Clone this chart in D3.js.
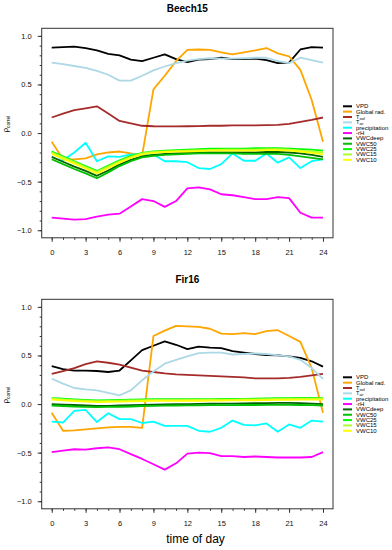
<!DOCTYPE html>
<html>
<head>
<meta charset="utf-8">
<script src="https://cdn.jsdelivr.net/npm/d3@7"></script>
<style>
  body { margin: 0; background: #fff; }
  svg text { font-family: "Liberation Sans", Arial, Helvetica, sans-serif; }
</style>
</head>
<body>
<svg id="chart" width="392" height="550"></svg>
<script>

// DATA
// ========================================================================
var hours = d3.range(0, 25);
var x_ticks_major = [0, 3, 6, 9, 12, 15, 18, 21, 24];
var y_ticks_major = [-1.0, -0.5, 0.0, 0.5, 1.0];

var series_names = ["VPD", "Global rad.", "Tsoil", "Tair", "precipitation", "-rH",
                    "VWCdeep", "VWC50", "VWC25", "VWC15", "VWC10"];
var series_colors = ["#000000", "#ffa500", "#a52a2a", "#add8e6", "#00ffff", "#ff00ff",
                     "#006400", "#00c000", "#00ff00", "#adff2f", "#ffff00"];

// Beech15
var beech_vpd    = [0.88, 0.885, 0.89, 0.875, 0.85, 0.815, 0.80, 0.755, 0.74, 0.775, 0.81, 0.76, 0.73, 0.755, 0.76, 0.775, 0.76, 0.76, 0.765, 0.75, 0.72, 0.725, 0.86, 0.885, 0.88];
var beech_rad    = [-0.09, -0.27, -0.27, -0.26, -0.22, -0.20, -0.19, -0.21, -0.23, 0.45, 0.59, 0.74, 0.855, 0.86, 0.855, 0.83, 0.81, 0.83, 0.85, 0.875, 0.82, 0.79, 0.65, 0.34, -0.09];
var beech_tsoil  = [0.16, 0.20, 0.235, 0.255, 0.275, 0.20, 0.125, 0.10, 0.075, 0.07, 0.068, 0.068, 0.07, 0.072, 0.075, 0.075, 0.08, 0.08, 0.08, 0.082, 0.085, 0.095, 0.115, 0.135, 0.16];
var beech_tair   = [0.725, 0.71, 0.69, 0.67, 0.64, 0.60, 0.54, 0.54, 0.59, 0.645, 0.685, 0.72, 0.745, 0.76, 0.77, 0.765, 0.765, 0.77, 0.775, 0.775, 0.74, 0.72, 0.775, 0.75, 0.725];
var beech_precip = [-0.19, -0.28, -0.20, -0.10, -0.29, -0.24, -0.245, -0.22, -0.22, -0.22, -0.29, -0.29, -0.30, -0.36, -0.37, -0.32, -0.21, -0.285, -0.285, -0.21, -0.305, -0.25, -0.36, -0.29, -0.27];
var beech_rh     = [-0.87, -0.88, -0.89, -0.885, -0.86, -0.84, -0.83, -0.755, -0.68, -0.70, -0.76, -0.70, -0.57, -0.56, -0.58, -0.63, -0.64, -0.66, -0.68, -0.68, -0.66, -0.67, -0.82, -0.87, -0.87];
var beech_vwcdeep = [-0.245, -0.295, -0.345, -0.39, -0.44, -0.385, -0.325, -0.275, -0.24, -0.225, -0.215, -0.21, -0.205, -0.20, -0.20, -0.20, -0.20, -0.20, -0.20, -0.195, -0.195, -0.20, -0.21, -0.225, -0.245];
var beech_vwc50  = [-0.27, -0.32, -0.37, -0.415, -0.465, -0.405, -0.34, -0.29, -0.25, -0.235, -0.225, -0.22, -0.215, -0.21, -0.21, -0.21, -0.21, -0.215, -0.215, -0.215, -0.215, -0.225, -0.24, -0.255, -0.27];
var beech_vwc25  = [-0.19, -0.24, -0.29, -0.34, -0.39, -0.335, -0.28, -0.235, -0.205, -0.19, -0.18, -0.175, -0.17, -0.165, -0.16, -0.16, -0.16, -0.16, -0.155, -0.155, -0.155, -0.16, -0.165, -0.17, -0.18];
var beech_vwc15  = [-0.20, -0.25, -0.30, -0.35, -0.40, -0.345, -0.29, -0.245, -0.21, -0.195, -0.19, -0.185, -0.18, -0.175, -0.175, -0.17, -0.17, -0.17, -0.17, -0.165, -0.165, -0.17, -0.18, -0.19, -0.20];
var beech_vwc10  = [-0.215, -0.265, -0.315, -0.365, -0.415, -0.36, -0.305, -0.255, -0.22, -0.205, -0.195, -0.19, -0.19, -0.185, -0.18, -0.18, -0.18, -0.18, -0.18, -0.175, -0.175, -0.18, -0.19, -0.205, -0.22];

// Fir16
var fir_vpd    = [0.39, 0.36, 0.345, 0.345, 0.34, 0.33, 0.345, 0.45, 0.555, 0.60, 0.645, 0.61, 0.565, 0.59, 0.58, 0.575, 0.545, 0.53, 0.515, 0.505, 0.50, 0.49, 0.475, 0.44, 0.385];
var fir_rad    = [-0.09, -0.275, -0.27, -0.26, -0.25, -0.24, -0.235, -0.235, -0.245, 0.70, 0.755, 0.805, 0.80, 0.795, 0.775, 0.725, 0.72, 0.73, 0.72, 0.75, 0.76, 0.70, 0.64, 0.37, -0.09];
var fir_tsoil  = [0.31, 0.34, 0.37, 0.41, 0.44, 0.425, 0.405, 0.375, 0.345, 0.33, 0.315, 0.305, 0.30, 0.295, 0.29, 0.285, 0.28, 0.275, 0.265, 0.265, 0.265, 0.27, 0.28, 0.295, 0.31];
var fir_tair   = [0.26, 0.21, 0.165, 0.15, 0.14, 0.115, 0.09, 0.14, 0.245, 0.335, 0.415, 0.455, 0.49, 0.525, 0.53, 0.53, 0.51, 0.515, 0.52, 0.515, 0.50, 0.49, 0.455, 0.37, 0.26];
var fir_precip = [-0.18, -0.19, -0.07, -0.06, -0.185, -0.095, -0.155, -0.155, -0.195, -0.18, -0.225, -0.225, -0.225, -0.275, -0.285, -0.245, -0.17, -0.215, -0.22, -0.20, -0.285, -0.21, -0.245, -0.17, -0.18];
var fir_rh     = [-0.495, -0.48, -0.465, -0.468, -0.455, -0.445, -0.465, -0.515, -0.565, -0.62, -0.675, -0.61, -0.51, -0.50, -0.505, -0.535, -0.535, -0.545, -0.54, -0.545, -0.55, -0.55, -0.55, -0.545, -0.495];
var fir_vwcdeep = [0.0, -0.005, -0.01, -0.015, -0.02, -0.018, -0.015, -0.012, -0.008, -0.005, -0.003, 0.0, 0.0, 0.002, 0.003, 0.004, 0.005, 0.006, 0.008, 0.01, 0.012, 0.012, 0.01, 0.005, 0.0];
var fir_vwc50  = [-0.015, -0.02, -0.025, -0.03, -0.032, -0.03, -0.028, -0.025, -0.02, -0.018, -0.016, -0.015, -0.014, -0.013, -0.012, -0.012, -0.011, -0.01, -0.01, -0.008, -0.008, -0.008, -0.01, -0.012, -0.015];
var fir_vwc25  = [0.062, 0.055, 0.048, 0.042, 0.038, 0.04, 0.043, 0.046, 0.048, 0.05, 0.05, 0.05, 0.05, 0.05, 0.05, 0.052, 0.053, 0.054, 0.056, 0.058, 0.06, 0.062, 0.063, 0.063, 0.062];
var fir_vwc15  = [0.055, 0.048, 0.04, 0.034, 0.03, 0.032, 0.035, 0.038, 0.04, 0.042, 0.042, 0.042, 0.042, 0.043, 0.044, 0.045, 0.046, 0.047, 0.048, 0.05, 0.052, 0.054, 0.055, 0.055, 0.055];
var fir_vwc10  = [0.045, 0.038, 0.03, 0.024, 0.02, 0.022, 0.025, 0.028, 0.03, 0.032, 0.033, 0.033, 0.034, 0.034, 0.035, 0.036, 0.037, 0.038, 0.039, 0.04, 0.042, 0.044, 0.045, 0.045, 0.045];
// ========================================================================

var PLOT_LEFT = 41.7;
var PLOT_RIGHT = 333;
var PLOT_HEIGHT = 209.5;

var svg = d3.select("#chart");

var x = d3.scaleLinear().domain([-0.885, 24.885]).range([PLOT_LEFT, PLOT_RIGHT]);


function drawPanel(title, top, series) {

  var y = d3.scaleLinear().domain([-1.078, 1.078]).range([top + PLOT_HEIGHT, top]);
  var g = svg.append("g");

  // Title
  g.append("text")
      .attr("x", (PLOT_LEFT + PLOT_RIGHT) / 2)
      .attr("y", top - 16.5)
      .attr("text-anchor", "middle")
      .style("font-size", "10px")
      .style("font-weight", "bold")
      .text(title);

  // minor + major ticks on x
  g.append("g")
      .attr("transform", "translate(0," + (top + PLOT_HEIGHT) + ")")
      .call(d3.axisBottom(x).tickValues(hours).tickSize(2).tickFormat(""));
  g.append("g")
      .attr("transform", "translate(0," + (top + PLOT_HEIGHT) + ")")
      .call(d3.axisBottom(x).tickValues(x_ticks_major).tickSize(4).tickPadding(8).tickFormat(d3.format("d")));

  // minor + major ticks on y
  g.append("g")
      .attr("transform", "translate(" + PLOT_LEFT + ",0)")
      .call(d3.axisLeft(y).tickValues(d3.range(-10, 11).map(function (d) { return d / 10; })).tickSize(2).tickFormat(""));
  g.append("g")
      .attr("transform", "translate(" + PLOT_LEFT + ",0)")
      .call(d3.axisLeft(y).tickValues(y_ticks_major).tickSize(4).tickPadding(6).tickFormat(d3.format(".1f")));

  g.selectAll(".domain").remove();
  g.selectAll(".tick line").attr("stroke", "#333");
  g.selectAll(".tick text").style("font-size", "7.5px").attr("fill", "#111");

  // frame
  g.append("rect")
      .attr("x", PLOT_LEFT)
      .attr("y", top)
      .attr("width", PLOT_RIGHT - PLOT_LEFT)
      .attr("height", PLOT_HEIGHT)
      .attr("fill", "none")
      .attr("stroke", "#333")
      .attr("stroke-width", 1);

  // y label
  var yl = g.append("text")
      .attr("transform", "translate(8," + (top + PLOT_HEIGHT / 2 - 9) + ") rotate(-90)")
      .attr("text-anchor", "middle")
      .style("font-size", "8px");
  yl.append("tspan").text("\u03c1");
  yl.append("tspan").attr("dy", 1.5).style("font-size", "5px").text("correl");

  // lines
  var line = d3.line()
      .x(function (d, i) { return x(hours[i]); })
      .y(function (d) { return y(d); });

  g.append("g").selectAll("path")
      .data(series).enter()
      .append("path")
        .attr("d", function (d) { return line(d); })
        .attr("fill", "none")
        .attr("stroke", function (d, i) { return series_colors[i]; })
        .attr("stroke-width", 1.8)
        .attr("stroke-linejoin", "round");

  // legend
  var legend = g.append("g").attr("transform", "translate(343," + (top + 78) + ")");
  var rows = legend.selectAll("g")
      .data(series_names).enter()
      .append("g")
        .attr("transform", function (d, i) { return "translate(0," + (i * 5.35) + ")"; });
  rows.append("line")
      .attr("x1", 0).attr("x2", 9)
      .attr("stroke", function (d, i) { return series_colors[i]; })
      .attr("stroke-width", 2);
  var lt = rows.append("text")
      .attr("x", 13)
      .attr("y", 2)
      .style("font-size", "6px");
  lt.each(function (d) {
    var t = d3.select(this);
    if (d == "Tsoil" || d == "Tair") {
      t.append("tspan").style("font-size", "5.5px").text("T");
      t.append("tspan").attr("dy", 0.5).style("font-size", "3.6px").text(d.slice(1));
    } else {
      t.text(d);
    }
  });
}


drawPanel("Beech15", 28.3, [beech_vpd, beech_rad, beech_tsoil, beech_tair, beech_precip, beech_rh,
                            beech_vwcdeep, beech_vwc50, beech_vwc25, beech_vwc15, beech_vwc10]);

drawPanel("Fir16", 299.3, [fir_vpd, fir_rad, fir_tsoil, fir_tair, fir_precip, fir_rh,
                           fir_vwcdeep, fir_vwc50, fir_vwc25, fir_vwc15, fir_vwc10]);

// x axis title
svg.append("text")
    .attr("x", 195.5)
    .attr("y", 543)
    .attr("text-anchor", "middle")
    .style("font-size", "12px")
    .text("time of day");

</script>
</body>
</html>
